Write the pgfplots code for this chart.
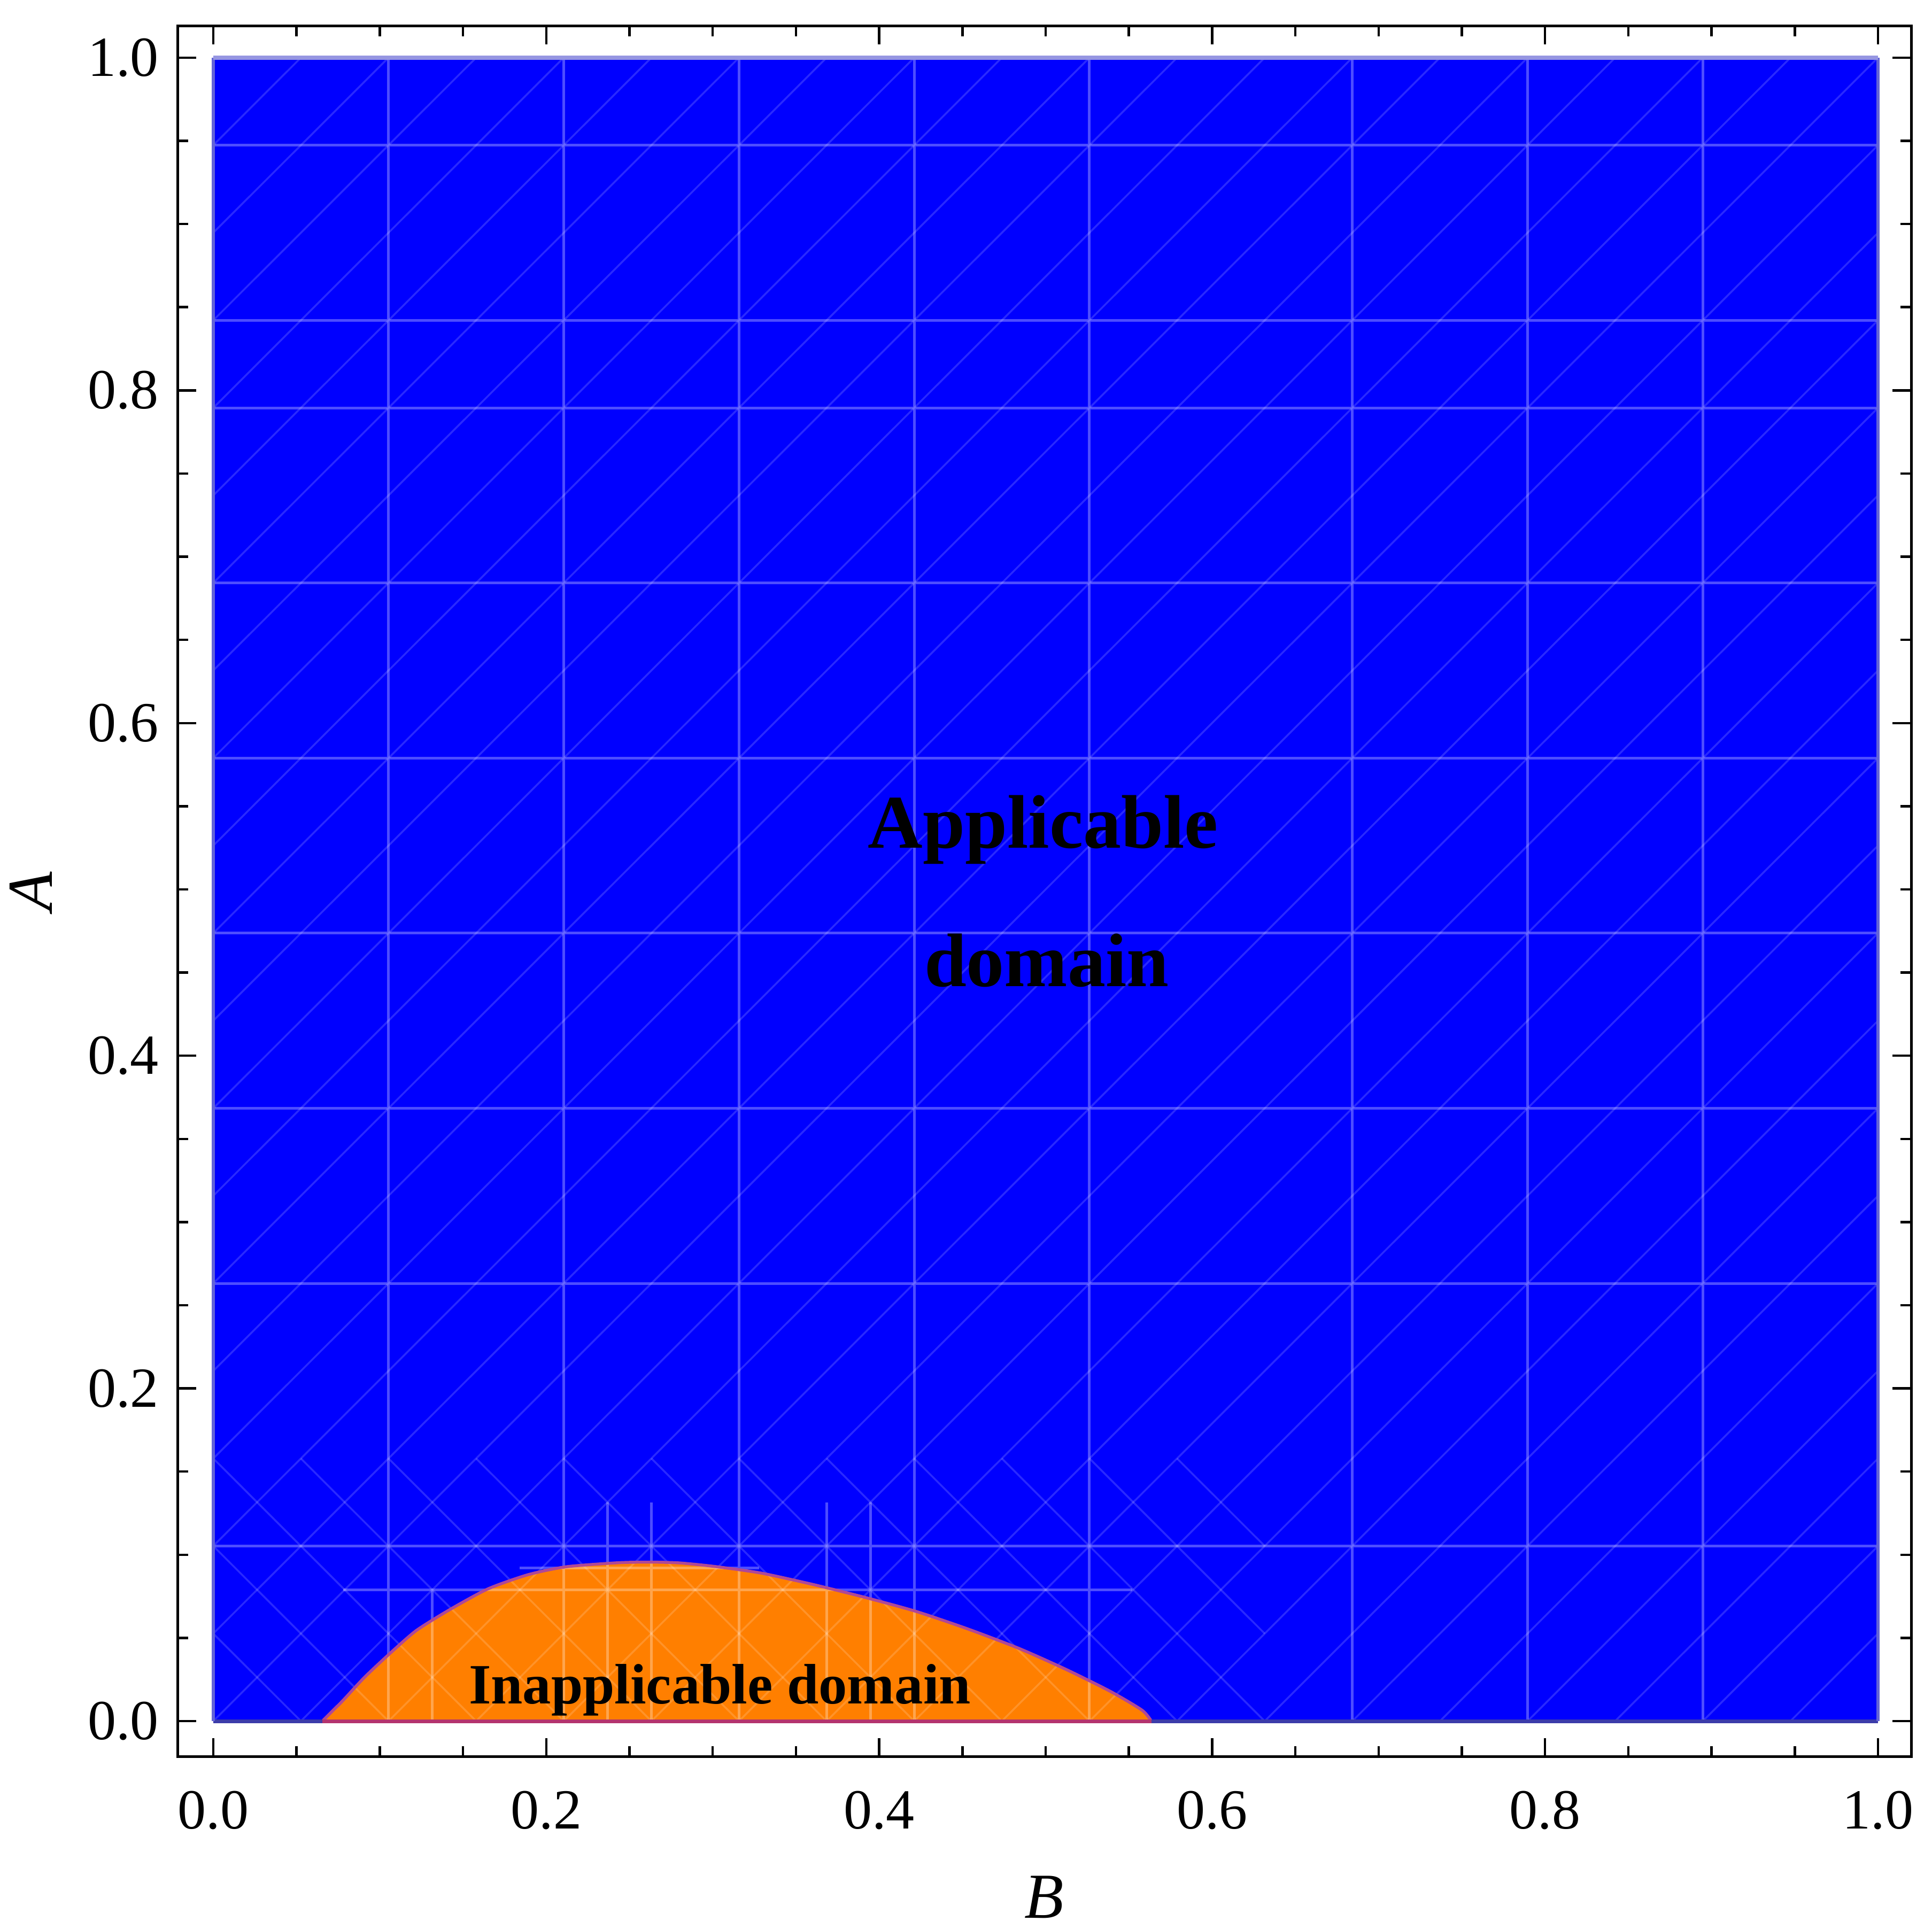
\documentclass[border=0pt]{standalone}
\usepackage{fontspec}
\setmainfont{Liberation Serif}
\usepackage{pgfplots}
\pgfplotsset{compat=1.18}
\definecolor{mblue}{RGB}{0,0,255}
\definecolor{morange}{RGB}{255,127,0}
\definecolor{bnd}{RGB}{176,72,150}
\definecolor{obot}{RGB}{180,52,110}
\definecolor{bbot}{RGB}{60,60,170}
\definecolor{bedge}{RGB}{100,100,215}
\definecolor{btop}{RGB}{150,150,225}
\begin{document}
\begin{tikzpicture}
\begin{axis}[
  scale only axis, width=324.3pt, height=323.85pt,
  xmin=-0.0215, xmax=1.0199, ymin=-0.0215, ymax=1.0191,
  xtick={0,0.2,0.4,0.6,0.8,1}, ytick={0,0.2,0.4,0.6,0.8,1},
  minor tick num=3,
  tick align=inside,
  major tick length=3.5pt, minor tick length=2pt,
  every tick/.style={black, line width=0.45pt},
  axis line style={black, line width=0.5pt},
  /pgf/number format/fixed, /pgf/number format/fixed zerofill,
  /pgf/number format/precision=1, /pgf/number format/assume math mode=true,
  tick label style={font=\fontsize{10.6}{12}\selectfont},
  xticklabel style={yshift=-2.9pt},
  unbounded coords=jump,
]
% applicable region
\addplot[fill=mblue, draw=none] coordinates {(0,0) (1,0) (1,1) (0,1)} -- cycle;
% inapplicable region
\addplot[fill=morange, draw=none, smooth, tension=0.4] coordinates {
(0.0655,0) (0.072,0.0065) (0.078,0.0125) (0.091,0.0265) (0.107,0.0415) (0.122,0.0545)
(0.142,0.067) (0.165,0.0795) (0.189,0.0880) (0.212,0.0928) (0.243,0.0952) (0.262,0.0956)
(0.280,0.0951) (0.301,0.0930) (0.329,0.0890) (0.360,0.0822) (0.391,0.0745) (0.422,0.0660)
(0.453,0.0555) (0.484,0.0437) (0.512,0.0312) (0.539,0.0178) (0.558,0.0065) (0.5635,0)}
\closedcycle;
% faint diagonal mesh
\addplot[white, opacity=0.16, line width=0.35pt] coordinates {
(0,0.05263)(0.94737,1) (nan,nan) (0,0.10526)(0.89474,1) (nan,nan)
(0,0.15789)(0.84211,1) (nan,nan) (0,0.21053)(0.78947,1) (nan,nan)
(0,0.26316)(0.73684,1) (nan,nan) (0,0.31579)(0.68421,1) (nan,nan)
(0,0.36842)(0.63158,1) (nan,nan) (0,0.42105)(0.57895,1) (nan,nan)
(0,0.47368)(0.52632,1) (nan,nan) (0,0.52632)(0.47368,1) (nan,nan)
(0,0.57895)(0.42105,1) (nan,nan) (0,0.63158)(0.36842,1) (nan,nan)
(0,0.68421)(0.31579,1) (nan,nan) (0,0.73684)(0.26316,1) (nan,nan)
(0,0.78947)(0.21053,1) (nan,nan) (0,0.84211)(0.15789,1) (nan,nan)
(0,0.89474)(0.10526,1) (nan,nan) (0,0.94737)(0.05263,1) (nan,nan)
(0,0)(1,1) (nan,nan)
(0.05263,0)(1,0.94737) (nan,nan) (0.10526,0)(1,0.89474) (nan,nan)
(0.15789,0)(1,0.84211) (nan,nan) (0.21053,0)(1,0.78947) (nan,nan)
(0.26316,0)(1,0.73684) (nan,nan) (0.31579,0)(1,0.68421) (nan,nan)
(0.36842,0)(1,0.63158) (nan,nan) (0.42105,0)(1,0.57895) (nan,nan)
(0.47368,0)(1,0.52632) (nan,nan) (0.52632,0)(1,0.47368) (nan,nan)
(0.57895,0)(1,0.42105) (nan,nan) (0.63158,0)(1,0.36842) (nan,nan)
(0.68421,0)(1,0.31579) (nan,nan) (0.73684,0)(1,0.26316) (nan,nan)
(0.78947,0)(1,0.21053) (nan,nan) (0.84211,0)(1,0.15789) (nan,nan)
(0.89474,0)(1,0.10526) (nan,nan) (0.94737,0)(1,0.05263)
};
% refined anti-diagonals near the boundary
\addplot[white, opacity=0.16, line width=0.35pt] coordinates {
(0,0.05263)(0.05263,0) (nan,nan) (0,0.10526)(0.10526,0) (nan,nan)
(0,0.15789)(0.15789,0) (nan,nan) (0.05263,0.15789)(0.21053,0) (nan,nan)
(0.10526,0.15789)(0.26316,0) (nan,nan) (0.15789,0.15789)(0.31579,0) (nan,nan)
(0.21053,0.15789)(0.36842,0) (nan,nan) (0.26316,0.15789)(0.42105,0) (nan,nan)
(0.31579,0.15789)(0.47368,0) (nan,nan) (0.36842,0.15789)(0.52632,0) (nan,nan)
(0.42105,0.15789)(0.57895,0) (nan,nan) (0.47368,0.15789)(0.63158,0) (nan,nan)
(0.52632,0.15789)(0.63158,0.05263) (nan,nan) (0.57895,0.15789)(0.63158,0.10526)
};
% strong mesh lines
\addplot[white, opacity=0.3, line width=0.5pt] coordinates {
(0.10526,0)(0.10526,1) (nan,nan) (0.21053,0)(0.21053,1) (nan,nan)
(0.31579,0)(0.31579,1) (nan,nan) (0.42105,0)(0.42105,1) (nan,nan)
(0.52632,0)(0.52632,1) (nan,nan) (0.68421,0)(0.68421,1) (nan,nan)
(0.78947,0)(0.78947,1) (nan,nan) (0.89474,0)(0.89474,1) (nan,nan)
(0,0.10526)(1,0.10526) (nan,nan) (0,0.26316)(1,0.26316) (nan,nan)
(0,0.36842)(1,0.36842) (nan,nan) (0,0.47368)(1,0.47368) (nan,nan)
(0,0.57895)(1,0.57895) (nan,nan) (0,0.68421)(1,0.68421) (nan,nan)
(0,0.78947)(1,0.78947) (nan,nan) (0,0.84211)(1,0.84211) (nan,nan)
(0,0.94737)(1,0.94737) (nan,nan)
(0.078,0.07895)(0.552,0.07895) (nan,nan) (0.184,0.0921)(0.328,0.0921) (nan,nan)
(0.23684,0)(0.23684,0.13158) (nan,nan) (0.26316,0)(0.26316,0.13158) (nan,nan)
(0.36842,0)(0.36842,0.13158) (nan,nan) (0.39474,0)(0.39474,0.13158) (nan,nan)
(0.13158,0)(0.13158,0.07895)
};
% region boundaries
\addplot[bnd, line width=0.55pt, smooth, tension=0.4] coordinates {
(0.0655,0) (0.072,0.0065) (0.078,0.0125) (0.091,0.0265) (0.107,0.0415) (0.122,0.0545)
(0.142,0.067) (0.165,0.0795) (0.189,0.0880) (0.212,0.0928) (0.243,0.0952) (0.262,0.0956)
(0.280,0.0951) (0.301,0.0930) (0.329,0.0890) (0.360,0.0822) (0.391,0.0745) (0.422,0.0660)
(0.453,0.0555) (0.484,0.0437) (0.512,0.0312) (0.539,0.0178) (0.558,0.0065) (0.5635,0)};
\addplot[obot, line width=0.7pt] coordinates {(0.0655,0) (0.5635,0)};
\addplot[bbot, line width=0.7pt] coordinates {(0,0) (0.0655,0) (nan,nan) (0.5635,0) (1,0)};
\addplot[bedge, line width=0.6pt] coordinates {(0,0) (0,1) (nan,nan) (1,0) (1,1)};
\addplot[btop, line width=0.75pt] coordinates {(0,1) (1,1)};
% texts
\node[anchor=base, inner sep=0pt, font=\bfseries\fontsize{14.2}{16}\selectfont] at (axis cs:0.4985,0.5250) {Applicable};
\node[anchor=base, inner sep=0pt, font=\bfseries\fontsize{14.2}{16}\selectfont] at (axis cs:0.5006,0.4418) {domain};
\node[anchor=base, inner sep=0pt, font=\bfseries\fontsize{10.66}{12}\selectfont] at (axis cs:0.3043,0.0105) {Inapplicable domain};
\coordinate (sw) at (rel axis cs:0,0);
\coordinate (ne) at (rel axis cs:1,1);
\coordinate (lm) at (rel axis cs:0,0.5);
\coordinate (bm) at (rel axis cs:0.5,0);
\end{axis}
\node[rotate=90, anchor=base, inner sep=0pt, font=\fontsize{12}{14}\selectfont\itshape] at ([xshift=-23.5pt]lm) {A};
\node[anchor=base, inner sep=0pt, font=\fontsize{12}{14}\selectfont\itshape] at ([yshift=-30.2pt]bm) {B};
\pgfresetboundingbox
\path[use as bounding box] ([xshift=-33.2pt,yshift=-32.2pt]sw) rectangle ([xshift=3.9pt,yshift=4.85pt]ne);
\end{tikzpicture}
\end{document}
